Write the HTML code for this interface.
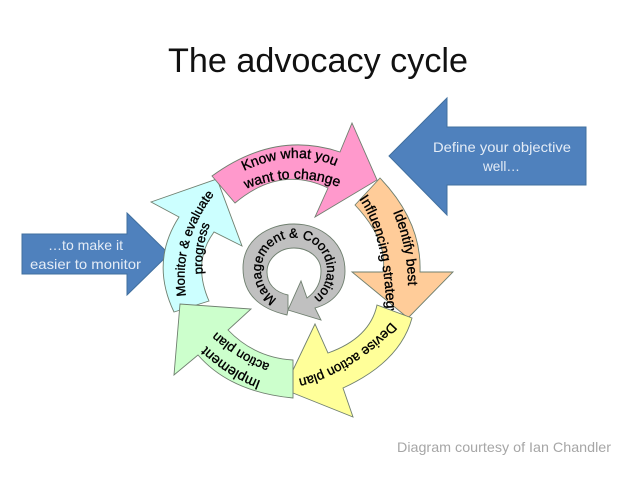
<!DOCTYPE html>
<html><head><meta charset="utf-8"><style>
html,body{margin:0;padding:0;background:#fff}
svg{display:block}
.c{font-family:"Liberation Sans",sans-serif;font-size:14px;fill:#000;stroke:#000;stroke-width:.35}
.s{stroke:#6f7f6f;stroke-width:.9}
.w{font-family:"Liberation Sans",sans-serif;font-size:14px;fill:#e4ecf6}
</style></head><body>
<svg width="638" height="479" viewBox="0 0 638 479" xmlns="http://www.w3.org/2000/svg">
<defs>
<path id="p1" d="M244 171Q296 146 342 169"/>
<path id="p2" d="M246 189Q297 168 346 190"/>
<path id="o1" d="M393 212Q409 250 408 292"/>
<path id="o2" d="M359 199Q385 235 387 322"/>
<path id="y1" d="M391 322Q366 350 331 367Q316 375 298 379"/>
<path id="g1" d="M261 381Q231 370 204 344"/>
<path id="g2" d="M270 364Q238 353 208 324"/>
<path id="c1" d="M186 296Q178 240 216 192"/>
<path id="c2" d="M203 274Q200 245 212 220"/>
<path id="m1" d="M277 299A33 33 0 1 1 314 297"/>
</defs>
<text x="168" y="72" font-family="Liberation Sans,sans-serif" font-size="34" fill="#111" textLength="300" lengthAdjust="spacingAndGlyphs">The advocacy cycle</text>
<path d="M389 156L447 98V127H586V185H447V215Z" fill="#4f81bd" stroke="#41709f"/>
<path d="M22 234H127V213L169 254L127 295V274H22Z" fill="#4f81bd" stroke="#41709f"/>
<text class="w" x="433" y="152" textLength="138" lengthAdjust="spacingAndGlyphs">Define your objective</text>
<text class="w" x="483" y="171" textLength="37" lengthAdjust="spacingAndGlyphs">well…</text>
<text class="w" x="48" y="250" textLength="75" lengthAdjust="spacingAndGlyphs">…to make it</text>
<text class="w" x="30" y="269" textLength="111" lengthAdjust="spacingAndGlyphs">easier to monitor</text>

<path class="s" fill="#ccffff" d="M151 202L217 179L242 246L214 232Q192 262 209 301L174 312Q150 262 179 217Z"/>
<path class="s" fill="#ff99cc" d="M212 176Q275 130 340 152L352 123L377 180L315 217L328 188Q280 165 235 203Z"/>
<path class="s" fill="#ffcc99" d="M355 205L380 178Q422 222 420 272H453L408 318L352 272H383Q388 240 355 205Z"/>
<text class="c"><textPath href="#o1">Identify best</textPath></text>
<text class="c"><textPath href="#o2">Influencing strategy</textPath></text>
<path class="s" fill="#ffff99" d="M377 305L412 318Q400 362 343 388L353 417L293 393V370L315 324L328 353Q370 338 377 305Z"/>
<path class="s" fill="#ccffcc" d="M293 360Q255 358 228 330L251 309L180 304L174 375L198 355Q230 392 293 398Z"/>
<path class="s" fill="#c0c0c0" d="M288 310L287 315Q243 305 243 268C243 240 268 224 294 224C322 224 345 243 345 271C345 290 333 303 315 308L321 320L288 310L301 281L307 298Q321 288 321 271C321 257 308 248 294 248C279 248 267 259 267 272C267 284 275 292 288 295Z"/>

<text class="c"><textPath href="#p1">Know what you</textPath></text>
<text class="c"><textPath href="#p2">want to change</textPath></text>
<text class="c" style="font-size:13.5px"><textPath href="#y1">Devise action plan</textPath></text>
<text class="c"><textPath href="#g1">Implement</textPath></text>
<text class="c" style="font-size:13px"><textPath href="#g2">action plan</textPath></text>
<text class="c" style="font-size:13px"><textPath href="#c1">Monitor &amp; evaluate</textPath></text>
<text class="c" style="font-size:13px"><textPath href="#c2">progress</textPath></text>
<text class="c" style="font-size:13.2px"><textPath href="#m1">Management &amp; Coordination</textPath></text>

<text x="397" y="452" font-family="Liberation Sans,sans-serif" font-size="14" fill="#a6a6a6" textLength="214" lengthAdjust="spacingAndGlyphs">Diagram courtesy of Ian Chandler</text>
</svg>
</body></html>
